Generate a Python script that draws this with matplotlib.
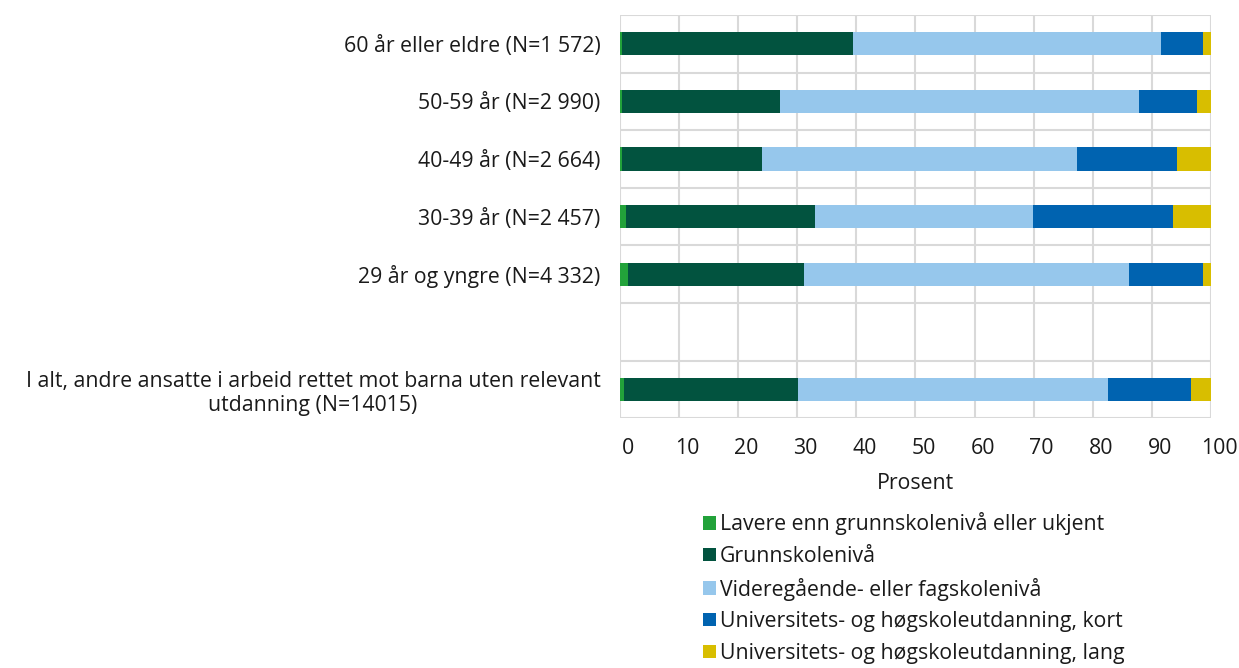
import numpy as np
import matplotlib.pyplot as plt
from matplotlib.transforms import ScaledTranslation

plt.rcParams['font.family'] = ['Open Sans', 'DejaVu Sans']

# kategorier fra topp til bunn (tom plass før totalen)
kategorier = [
    '60 år eller eldre (N=1 572)',
    '50-59 år (N=2 990)',
    '40-49 år (N=2 664)',
    '30-39 år (N=2 457)',
    '29 år og yngre (N=4 332)',
    '',
    'I alt, andre ansatte i arbeid rettet mot barna uten relevant\nutdanning (N=14015)',
]

serier = [
    'Lavere enn grunnskolenivå eller ukjent',
    'Grunnskolenivå',
    'Videregående- eller fagskolenivå',
    'Universitets- og høgskoleutdanning, kort',
    'Universitets- og høgskoleutdanning, lang',
]

lavere = [0.4, 0.3, 0.4, 1.0, 1.3, np.nan, 0.7]
grunnskole = [39.1, 26.8, 23.7, 32.0, 29.8, np.nan, 29.5]
videregaende = [52.1, 60.8, 53.2, 36.9, 55.0, np.nan, 52.4]
uni_kort = [7.1, 9.8, 16.9, 23.7, 12.5, np.nan, 14.1]
uni_lang = [1.3, 2.3, 5.8, 6.4, 1.4, np.nan, 3.3]

farger = ['#22a23a', '#02533f', '#96c7ec', '#0063b0', '#d8be00']
fs = 15.3

fig = plt.figure(figsize=(12.39, 6.68), dpi=100)
ax = fig.add_axes([0.5004, 0.374, 0.4770, 0.6035])

y = np.arange(len(kategorier))
venstre = np.zeros(len(kategorier))
for navn, verdier, farge in zip(serier, [lavere, grunnskole, videregaende, uni_kort, uni_lang], farger):
    v = np.nan_to_num(np.array(verdier, dtype=float))
    ax.barh(y, v, left=venstre, height=0.4, color=farge, label=navn, zorder=3)
    venstre += v

ax.set_xlim(0, 100)
ax.set_ylim(len(kategorier) - 0.5, -0.5)
ax.set_xticks(np.arange(0, 101, 10))
ax.set_yticks(y)
ax.set_yticklabels(kategorier, fontsize=fs, color='#1a1a1a', multialignment='center')
ax.set_yticks(np.arange(-0.5, len(kategorier)), minor=True)
ax.tick_params(axis='both', which='both', length=0)
ax.tick_params(axis='y', pad=14)
ax.tick_params(axis='x', pad=14, labelsize=fs, labelcolor='#1a1a1a')

ax.grid(axis='x', which='major', color='#d9d9d9', linewidth=1.5, zorder=0)
ax.grid(axis='y', which='minor', color='#d9d9d9', linewidth=1.5, zorder=0)
for s in ax.spines.values():
    s.set_visible(False)

forskyv = ScaledTranslation(8 / 100, 0, fig.dpi_scale_trans)
for lbl in ax.get_xticklabels():
    lbl.set_transform(lbl.get_transform() + forskyv)

ax.set_xlabel('Prosent', fontsize=fs, color='#1a1a1a', labelpad=10)

fig.legend(loc='upper left', bbox_to_anchor=(0.5675, 0.233), frameon=False,
           fontsize=fs, handlelength=0.6, handleheight=0.6,
           handletextpad=0.2, labelspacing=0.5, borderaxespad=0, borderpad=0,
           labelcolor='#1a1a1a')

fig.savefig('out.png', dpi=100)
